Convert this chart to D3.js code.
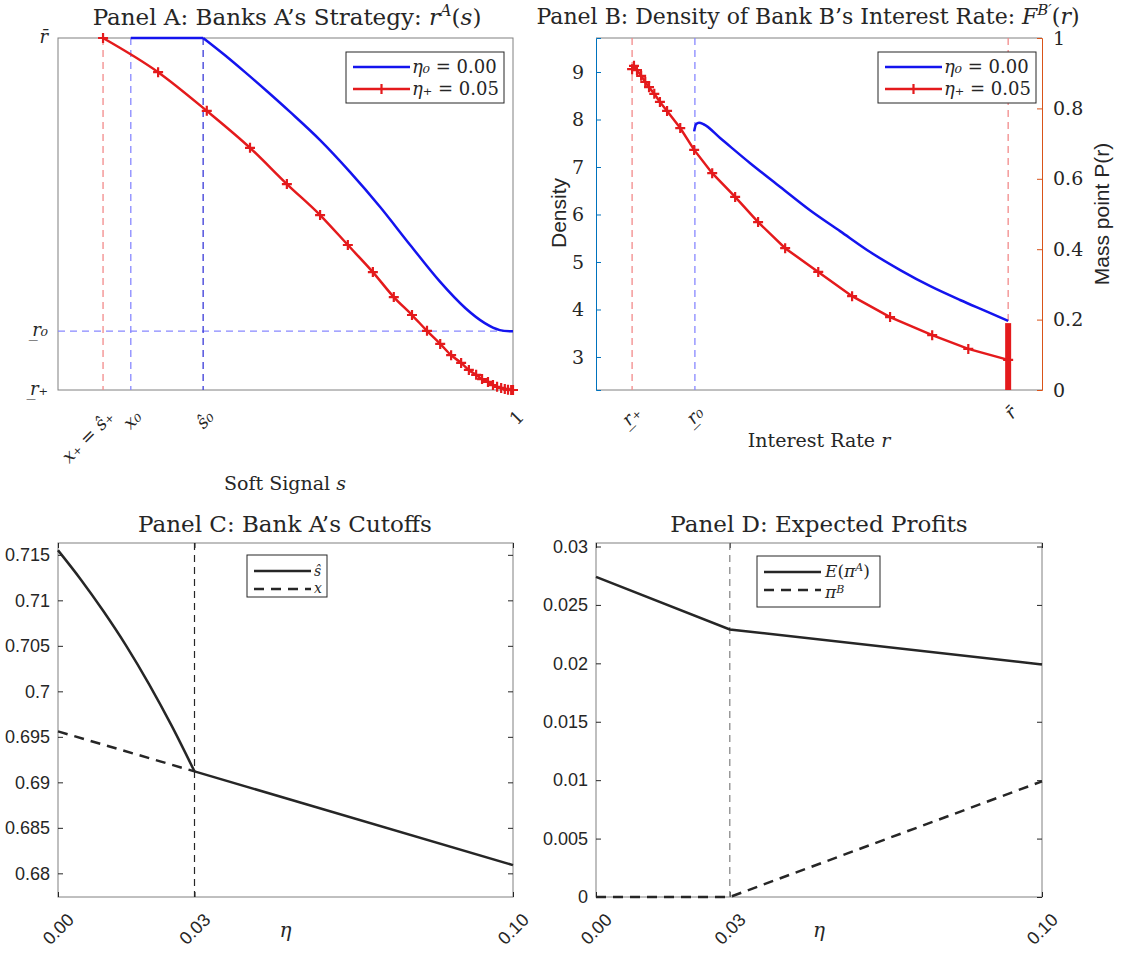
<!DOCTYPE html>
<html>
<head>
<meta charset="utf-8">
<script src="https://cdn.jsdelivr.net/npm/d3@7"></script>
<style>
  body { margin: 0; background: #fff; }
  text { font-family: "DejaVu Serif", serif; fill: #262626; }
  .sans { font-family: "Liberation Sans", Arial, sans-serif; }
</style>
</head>
<body>
<svg width="1122" height="979"></svg>
<script>
// ---- cutoffs (shared by panels A and B) ----
var rPlus = 0, r0 = 0.167, rBar = 1;
var xPlus = 0.099, x0 = 0.160, s0hat = 0.319;

// ---- Panel A: r^A(s) ----
var sBlueA = [0.160, 0.319, 0.365, 0.411, 0.460, 0.510, 0.576, 0.642, 0.708, 0.774, 0.840, 0.895, 0.938, 0.971, 1];
var rBlueA = [1, 1, 0.953, 0.903, 0.848, 0.790, 0.710, 0.619, 0.520, 0.412, 0.307, 0.233, 0.190, 0.170, 0.167];
var sRedA = [0.099, 0.220, 0.327, 0.422, 0.503, 0.576, 0.637, 0.692, 0.738, 0.778, 0.811, 0.840, 0.864,
             0.886, 0.903, 0.919, 0.932, 0.945, 0.956, 0.965, 0.974, 0.982, 0.989, 0.996, 1];
var rRedA = [1, 0.903, 0.793, 0.688, 0.585, 0.497, 0.412, 0.335, 0.264, 0.213, 0.168, 0.131, 0.099,
             0.077, 0.057, 0.043, 0.031, 0.023, 0.014, 0.009, 0.006, 0.003, 0.001, 0, 0];

// ---- Panel B: density of bank B's rate ----
var rBlueB = [0.165, 0.170, 0.178, 0.190, 0.234, 0.314, 0.394, 0.473, 0.553, 0.633, 0.713, 0.793, 0.872, 0.939, 1];
var dBlueB = [7.75, 7.90, 7.93, 7.90, 7.61, 7.08, 6.58, 6.09, 5.65, 5.21, 4.83, 4.49, 4.20, 3.97, 3.76];
var rRedB = [0, 0.005, 0.013, 0.024, 0.035, 0.045, 0.059, 0.074, 0.093, 0.128, 0.165, 0.213, 0.274,
             0.335, 0.407, 0.495, 0.585, 0.686, 0.798, 0.894, 1];
var dRedB = [9.06, 9.13, 9.04, 8.92, 8.79, 8.68, 8.54, 8.37, 8.18, 7.82, 7.36, 6.87, 6.37,
             5.84, 5.29, 4.79, 4.28, 3.84, 3.46, 3.17, 2.94];
var massPoint = 0.19;
var densTicks = [3, 4, 5, 6, 7, 8, 9];
var massTicks = [0, 0.2, 0.4, 0.6, 0.8, 1];

// ---- Panel C: cutoffs ----
var etaHat = [0, 0.005, 0.01, 0.015, 0.02, 0.025, 0.03];
var sHat = [0.7155, 0.7123, 0.7088, 0.7050, 0.7008, 0.6962, 0.6912];
var etaCommon = [0.03, 0.1];
var cutCommon = [0.6912, 0.6809];
var etaX = [0, 0.03];
var xCut = [0.6956, 0.6912];
var cTicks = [0.68, 0.685, 0.69, 0.695, 0.7, 0.705, 0.71, 0.715];

// ---- Panel D: profits ----
var etaPi = [0, 0.03, 0.1];
var piA = [0.0274, 0.0229, 0.0199];
var piB = [0, 0, 0.0099];
var dTicks = [0, 0.005, 0.01, 0.015, 0.02, 0.025, 0.03];
var etaTicks = [0, 0.03, 0.1];

var svg = d3.select("svg");
var grey = "#808080", blue = "#1414ee", red = "#e41a1c";
var lightBlue = "#8888ff", lightRed = "#f28a8a", darkBlue = "#3a3ad8";
var matBlue = "#0072BD", matOrange = "#D95319";
var plus = "M-5,0H5M0,-5V5";

function line(x, y) {
  return d3.line().x(function(d) { return x(d[0]); }).y(function(d) { return y(d[1]); });
}

function rotLabel(g, x, y, fill) {
  return g.append("text")
      .attr("transform", "translate(" + x + "," + y + ") rotate(-45)")
      .attr("text-anchor", "end")
      .attr("fill", fill || "#262626");
}

function title(cx, y, txt) {
  return svg.append("text").attr("x", cx).attr("y", y)
      .attr("text-anchor", "middle").attr("font-size", 23).text(txt);
}

// ================= Panel A =================
var wA = 455, hA = 352;
var gA = svg.append("g").attr("transform", "translate(58,38)");
var xA = d3.scaleLinear().domain([0, 1]).range([0, wA]);
var yA = d3.scaleLinear().domain([rPlus, rBar]).range([hA, 0]);

gA.append("rect").attr("width", wA).attr("height", hA)
    .attr("fill", "none").attr("stroke", grey);

gA.append("line").attr("x1", 0).attr("x2", wA).attr("y1", yA(r0)).attr("y2", yA(r0))
    .attr("stroke", lightBlue).attr("stroke-width", 1.3).attr("stroke-dasharray", "7,5");
[[xPlus, lightRed], [x0, lightBlue], [s0hat, darkBlue]].forEach(function(v) {
  gA.append("line").attr("x1", xA(v[0])).attr("x2", xA(v[0])).attr("y1", 0).attr("y2", hA)
      .attr("stroke", v[1]).attr("stroke-width", 1.3).attr("stroke-dasharray", "7,5");
});

// flat part, then the smooth decline
var blueA = d3.zip(sBlueA, rBlueA);
gA.append("path").datum(blueA.slice(0, 2))
    .attr("d", line(xA, yA))
    .attr("fill", "none").attr("stroke", blue).attr("stroke-width", 2.5);
gA.append("path").datum(blueA.slice(1))
    .attr("d", line(xA, yA).curve(d3.curveCatmullRom))
    .attr("fill", "none").attr("stroke", blue).attr("stroke-width", 2.5);
var redA = d3.zip(sRedA, rRedA);
gA.append("path").datum(redA)
    .attr("d", line(xA, yA).curve(d3.curveMonotoneX))
    .attr("fill", "none").attr("stroke", red).attr("stroke-width", 2.5);
gA.selectAll(".mk").data(redA).enter().append("path")
    .attr("d", plus)
    .attr("transform", function(d) { return "translate(" + xA(d[0]) + "," + yA(d[1]) + ")"; })
    .attr("stroke", red).attr("stroke-width", 2.2);

// y labels
[[rBar, "r\u0304"], [r0, "r\u0332\u2080"], [rPlus, "r\u0332\u208A"]].forEach(function(v) {
  gA.append("text").attr("x", -10).attr("y", yA(v[0]) + 5)
      .attr("text-anchor", "end").attr("font-size", 18).attr("font-style", "italic").text(v[1]);
});
// x labels
[[xPlus, "x\u208A = s\u0302\u208A"], [x0, "x\u2080"], [s0hat, "s\u0302\u2080"], [1, "1"]].forEach(function(v) {
  rotLabel(gA, xA(v[0]) + 12, hA + 28).attr("font-size", 18)
      .attr("font-style", v[1] == "1" ? "normal" : "italic").text(v[1]);
});
var labA = svg.append("text").attr("x", 285).attr("y", 490).attr("text-anchor", "middle").attr("font-size", 19);
labA.append("tspan").text("Soft Signal ");
labA.append("tspan").attr("font-style", "italic").text("s");

var tA = svg.append("text").attr("x", 287).attr("y", 25).attr("text-anchor", "middle").attr("font-size", 23);
tA.append("tspan").text("Panel A: Banks A\u2019s Strategy: ");
tA.append("tspan").attr("font-style", "italic").text("r");
tA.append("tspan").attr("font-style", "italic").attr("font-size", 16).attr("dy", -9).text("A");
tA.append("tspan").attr("dy", 9).text("(");
tA.append("tspan").attr("font-style", "italic").text("s");
tA.append("tspan").text(")");

// legend helper for panels A and B
function legendAB(x, y) {
  var g = svg.append("g").attr("transform", "translate(" + x + "," + y + ")");
  g.append("rect").attr("width", 158).attr("height", 51).attr("fill", "#fff").attr("stroke", "#262626");
  g.append("line").attr("x1", 7).attr("x2", 64).attr("y1", 15).attr("y2", 15)
      .attr("stroke", blue).attr("stroke-width", 2.5);
  g.append("line").attr("x1", 7).attr("x2", 64).attr("y1", 37).attr("y2", 37)
      .attr("stroke", red).attr("stroke-width", 2.5);
  g.append("path").attr("d", plus).attr("transform", "translate(35.5,37)")
      .attr("stroke", red).attr("stroke-width", 2.2);
  var t1 = g.append("text").attr("x", 66).attr("y", 21).attr("font-size", 18);
  t1.append("tspan").attr("font-style", "italic").text("\u03B7\u2080");
  t1.append("tspan").text(" = 0.00");
  var t2 = g.append("text").attr("x", 66).attr("y", 43).attr("font-size", 18);
  t2.append("tspan").attr("font-style", "italic").text("\u03B7\u208A");
  t2.append("tspan").text(" = 0.05");
}
legendAB(346, 52);

// ================= Panel B =================
var wB = 446, hB = 352;
var gB = svg.append("g").attr("transform", "translate(596,38)");
var xB = d3.scaleLinear().domain([-0.096, 1.09]).range([0, wB]);
var yB = d3.scaleLinear().domain([2.305, 9.716]).range([hB, 0]);
var yM = d3.scaleLinear().domain([0, 1]).range([hB, 0]);

gB.append("line").attr("x1", 0).attr("x2", wB).attr("y1", 0).attr("y2", 0).attr("stroke", grey);
gB.append("line").attr("x1", 0).attr("x2", wB).attr("y1", hB).attr("y2", hB).attr("stroke", grey);

[[rPlus, lightRed], [r0, lightBlue], [rBar, lightRed]].forEach(function(v) {
  gB.append("line").attr("x1", xB(v[0])).attr("x2", xB(v[0])).attr("y1", 0).attr("y2", hB)
      .attr("stroke", v[1]).attr("stroke-width", 1.3).attr("stroke-dasharray", "7,5");
});

var yAxisB = gB.append("g").call(d3.axisLeft(yB).tickValues(densTicks).tickSize(-5).tickPadding(12));
yAxisB.select(".domain").attr("stroke", matBlue);
yAxisB.selectAll("line").attr("stroke", matBlue);
yAxisB.selectAll("text").attr("fill", matBlue).attr("font-size", 19).attr("font-family", "DejaVu Serif");
var mAxisB = gB.append("g").attr("transform", "translate(" + wB + ",0)")
    .call(d3.axisRight(yM).tickValues(massTicks).tickSize(-5).tickPadding(11).tickFormat(d3.format("")));
mAxisB.select(".domain").attr("stroke", matOrange);
mAxisB.selectAll("line").attr("stroke", matOrange);
mAxisB.selectAll("text").attr("fill", matOrange).attr("font-size", 19).attr("font-family", "DejaVu Serif");

gB.append("path").datum(d3.zip(rBlueB, dBlueB))
    .attr("d", line(xB, yB).curve(d3.curveMonotoneX))
    .attr("fill", "none").attr("stroke", blue).attr("stroke-width", 2.5);
var redB = d3.zip(rRedB, dRedB);
gB.append("path").datum(redB)
    .attr("d", line(xB, yB))
    .attr("fill", "none").attr("stroke", red).attr("stroke-width", 2.5);
gB.selectAll(".mk").data(redB).enter().append("path")
    .attr("d", plus)
    .attr("transform", function(d) { return "translate(" + xB(d[0]) + "," + yB(d[1]) + ")"; })
    .attr("stroke", red).attr("stroke-width", 2.2);
gB.append("line").attr("x1", xB(rBar)).attr("x2", xB(rBar)).attr("y1", yM(0)).attr("y2", yM(massPoint))
    .attr("stroke", red).attr("stroke-width", 6);

[[rPlus, "r\u0332\u208A"], [r0, "r\u0332\u2080"], [rBar, "r\u0304"]].forEach(function(v) {
  rotLabel(gB, xB(v[0]) + 10, hB + 24).attr("font-size", 18).attr("font-style", "italic").text(v[1]);
});
svg.append("text").attr("class", "sans").attr("transform", "translate(566,213) rotate(-90)")
    .attr("text-anchor", "middle").attr("font-size", 21).attr("fill", matBlue).text("Density");
svg.append("text").attr("class", "sans").attr("transform", "translate(1109,214) rotate(-90)")
    .attr("text-anchor", "middle").attr("font-size", 21).attr("fill", matOrange).text("Mass point P(r)");
var labB = svg.append("text").attr("x", 819).attr("y", 447).attr("text-anchor", "middle").attr("font-size", 19);
labB.append("tspan").text("Interest Rate ");
labB.append("tspan").attr("font-style", "italic").text("r");

var tB = svg.append("text").attr("x", 808).attr("y", 24).attr("text-anchor", "middle").attr("font-size", 22);
tB.append("tspan").text("Panel B: Density of Bank B\u2019s Interest Rate: ");
tB.append("tspan").attr("font-style", "italic").text("F");
tB.append("tspan").attr("font-style", "italic").attr("font-size", 15).attr("dy", -9).text("B\u2032");
tB.append("tspan").attr("dy", 9).text("(");
tB.append("tspan").attr("font-style", "italic").text("r");
tB.append("tspan").text(")");
legendAB(878, 52);

// ================= Panels C and D =================
function etaPanel(x0p, w, yDomain, ticks, fmt) {
  var h = 354;
  var g = svg.append("g").attr("transform", "translate(" + x0p + ",543)");
  var x = d3.scaleLinear().domain([0, 0.1]).range([0, w]);
  var y = d3.scaleLinear().domain(yDomain).range([h, 0]);
  g.append("rect").attr("width", w).attr("height", h).attr("fill", "none").attr("stroke", grey);
  var ya = g.append("g").call(d3.axisLeft(y).tickValues(ticks).tickSize(-5).tickPadding(8).tickFormat(fmt));
  var yr = g.append("g").attr("transform", "translate(" + w + ",0)")
      .call(d3.axisRight(y).tickValues(ticks).tickSize(-5).tickFormat(""));
  var xa = g.append("g").attr("transform", "translate(0," + h + ")")
      .call(d3.axisBottom(x).tickValues(etaTicks).tickSize(-5).tickFormat(""));
  var xt = g.append("g").call(d3.axisTop(x).tickValues(etaTicks).tickSize(-5).tickFormat(""));
  [ya, yr, xa, xt].forEach(function(a) {
    a.select(".domain").remove();
    a.selectAll("line").attr("stroke", "#262626");
  });
  ya.selectAll("text").attr("class", "sans").attr("font-size", 18).attr("fill", "#262626");
  etaTicks.forEach(function(t) {
    rotLabel(g, x(t) + 17, h + 24).attr("class", "sans").attr("font-size", 18).text(d3.format(".2f")(t));
  });
  svg.append("text").attr("x", x0p + w / 2).attr("y", 937).attr("text-anchor", "middle")
      .attr("font-size", 20).attr("font-style", "italic").text("\u03B7");
  return { g: g, x: x, y: y, h: h };
}

function legendCD(x, y, w, h, labels) {
  var g = svg.append("g").attr("transform", "translate(" + x + "," + y + ")");
  g.append("rect").attr("width", w).attr("height", h).attr("fill", "#fff").attr("stroke", "#262626");
  g.append("line").attr("x1", 7).attr("x2", 64).attr("y1", 16).attr("y2", 16)
      .attr("stroke", "#262626").attr("stroke-width", 2.5);
  g.append("line").attr("x1", 7).attr("x2", 64).attr("y1", 34).attr("y2", 34)
      .attr("stroke", "#262626").attr("stroke-width", 2.5).attr("stroke-dasharray", "10,7");
  labels(g);
}

var fmt3 = function(d) { return d3.format("")(+d.toFixed(3)); };

// Panel C
var pC = etaPanel(58, 455, [0.6774, 0.7163], cTicks, fmt3);
pC.g.append("line").attr("x1", pC.x(0.03)).attr("x2", pC.x(0.03)).attr("y1", 0).attr("y2", pC.h)
    .attr("stroke", "#262626").attr("stroke-width", 1.2).attr("stroke-dasharray", "7,5");
pC.g.append("path").datum(d3.zip(etaHat, sHat)).attr("d", line(pC.x, pC.y).curve(d3.curveMonotoneX))
    .attr("fill", "none").attr("stroke", "#262626").attr("stroke-width", 2.5);
pC.g.append("path").datum(d3.zip(etaCommon, cutCommon)).attr("d", line(pC.x, pC.y))
    .attr("fill", "none").attr("stroke", "#262626").attr("stroke-width", 2.5);
pC.g.append("path").datum(d3.zip(etaX, xCut)).attr("d", line(pC.x, pC.y))
    .attr("fill", "none").attr("stroke", "#262626").attr("stroke-width", 2.5).attr("stroke-dasharray", "10,7");
title(285, 532, "Panel C: Bank A\u2019s Cutoffs");
legendCD(247, 555, 80, 42, function(g) {
  g.append("text").attr("x", 67).attr("y", 21).attr("font-size", 14).attr("font-style", "italic").text("s\u0302");
  g.append("text").attr("x", 67).attr("y", 38).attr("font-size", 14).attr("font-style", "italic").text("x");
});

// Panel D
var pD = etaPanel(596, 446, [0, 0.0303], dTicks, fmt3);
pD.g.append("line").attr("x1", pD.x(0.03)).attr("x2", pD.x(0.03)).attr("y1", 0).attr("y2", pD.h)
    .attr("stroke", grey).attr("stroke-width", 1.2).attr("stroke-dasharray", "7,5");
pD.g.append("path").datum(d3.zip(etaPi, piA)).attr("d", line(pD.x, pD.y))
    .attr("fill", "none").attr("stroke", "#262626").attr("stroke-width", 2.5);
pD.g.append("path").datum(d3.zip(etaPi, piB)).attr("d", line(pD.x, pD.y))
    .attr("fill", "none").attr("stroke", "#262626").attr("stroke-width", 2.5).attr("stroke-dasharray", "10,7");
title(819, 532, "Panel D: Expected Profits");
legendCD(757, 556, 123, 51, function(g) {
  var t = g.append("text").attr("x", 68).attr("y", 21).attr("font-size", 17);
  t.append("tspan").attr("font-style", "italic").text("E");
  t.append("tspan").text("(");
  t.append("tspan").attr("font-style", "italic").text("\u03C0");
  t.append("tspan").attr("font-style", "italic").attr("font-size", 11).attr("dy", -6).text("A");
  t.append("tspan").attr("dy", 6).text(")");
  var t2 = g.append("text").attr("x", 68).attr("y", 42).attr("font-size", 17);
  t2.append("tspan").attr("font-style", "italic").text("\u03C0");
  t2.append("tspan").attr("font-style", "italic").attr("font-size", 11).attr("dy", -5).text("B");
});
</script>
</body>
</html>
